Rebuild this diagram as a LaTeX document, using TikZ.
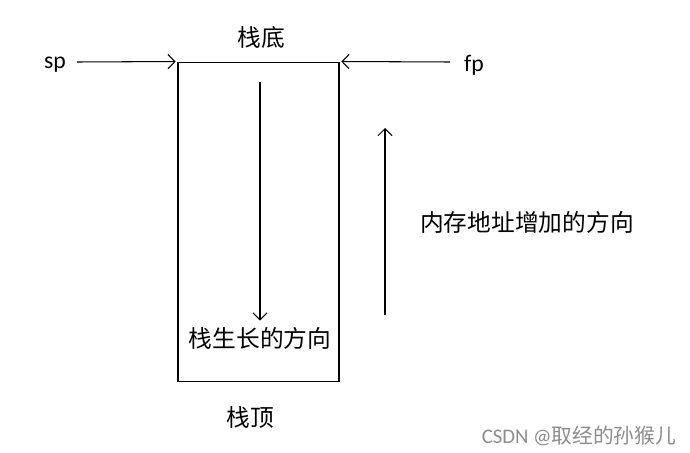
\documentclass[tikz,border=0pt]{standalone}
\usepackage{fontspec}
\setmainfont{Carlito}
\newfontfamily\cjk{Noto Sans CJK SC}
\usetikzlibrary{arrows.meta,positioning}
\begin{document}
\begin{tikzpicture}[x=0.02cm,y=-0.02cm,font=\fontsize{13.5}{16}\selectfont,line width=0.6pt,>={Straight Barb[length=4pt,width=8pt]}]
\useasboundingbox (0,0) rectangle (690,453);
% stack frame
\node[draw,minimum width=3.22cm,minimum height=6.4cm,inner sep=0pt] (stack) at (258.5,222) {};
\node (bottom) at (261,37) {\cjk 栈底};
\node (top) at (250,418) {\cjk 栈顶};
% frame pointers
\node (sp) at (55,65) {sp};
\node (fp) at (474,65) {fp};
\coordinate (sptail) at (77,62);
\coordinate (fptail) at (450,62);
\draw[->] (sptail) -- ([xshift=-1pt]stack.north west);
\draw[->] (fptail) -- ([xshift=1pt]stack.north east);
% growth direction
\coordinate (growtail) at (260,82);
\node (grow) at (260,338) {\cjk 栈生长的方向};
\draw[->] (growtail) -- (grow.north);
% address direction
\coordinate (addrtail) at (385,315);
\coordinate (addrhead) at (385,128);
\draw[->] (addrtail) -- (addrhead);
\node (addr) at (527,222) {\cjk 内存地址增加的方向};
\node[text=black!45,font=\fontsize{11.8}{14}\selectfont] (mark) at (579,436) {CSDN @{\cjk 取经的孙猴儿}};
\end{tikzpicture}
\end{document}
